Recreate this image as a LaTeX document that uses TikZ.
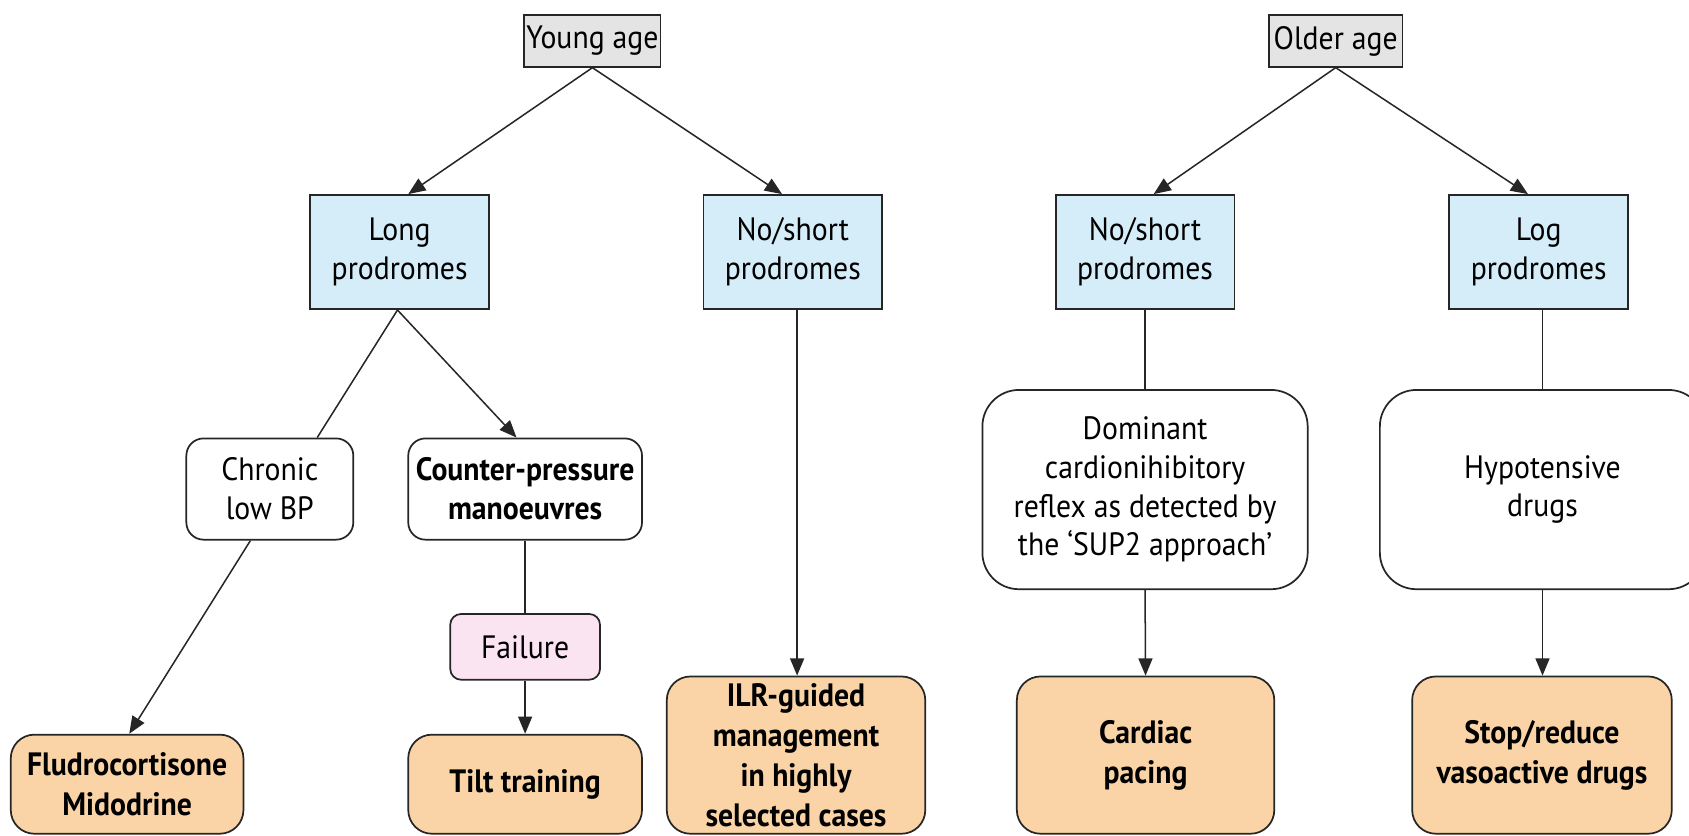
\documentclass[tikz,border=0pt]{standalone}
\usepackage{fontspec}
\setmainfont{PT Sans}[FakeStretch=0.92]
\usetikzlibrary{arrows.meta}
\definecolor{bordc}{HTML}{262626}
\definecolor{grayc}{HTML}{E4E4E4}
\definecolor{bluec}{HTML}{D5ECF9}
\definecolor{pinkc}{HTML}{FBE4F1}
\definecolor{orangec}{HTML}{FAD4A6}
\begin{document}
\begin{tikzpicture}[x=0.5pt,y=-0.5pt,
  base/.style={draw=bordc, line width=0.8pt, align=center, inner sep=1pt, font=\fontsize{15}{18}\selectfont},
  agebox/.style={base, fill=grayc, minimum width=62pt, minimum height=24pt},
  probox/.style={base, fill=bluec, minimum width=83pt, minimum height=53pt},
  condbox/.style={base, fill=white, rounded corners=8pt},
  failbox/.style={base, fill=pinkc, rounded corners=5pt},
  resbox/.style={base, fill=orangec, rounded corners=11pt, font=\fontsize{15}{18.5}\selectfont\bfseries},
  arr/.style={-{Triangle[length=8pt,width=6.5pt]}, line width=0.7pt, draw=bordc},
  ln/.style={line width=0.7pt, draw=bordc}]
\clip (0,0) rectangle (1568,776);
\fill[white] (0,0) rectangle (1568,776);
% top
\node[agebox] (ya) at (550,38) {Young age};
\node[agebox] (oa) at (1240,38) {Older age};
% prodromes
\node[probox] (lp) at (371,234) {Long\\prodromes};
\node[probox] (ns1) at (736,234) {No/short\\prodromes};
\node[probox] (ns2) at (1063,234) {No/short\\prodromes};
\node[probox] (lgp) at (1428.5,234) {Log\\prodromes};
% conditions
\node[condbox, minimum width=77.5pt, minimum height=47pt] (cl) at (250.5,454) {Chronic\\low BP};
\node[condbox, minimum width=108.5pt, minimum height=47pt, font=\fontsize{15}{18}\selectfont\bfseries] (cp) at (487.5,454) {Counter-pressure\\manoeuvres};
\node[failbox, minimum width=69.5pt, minimum height=30.5pt] (fa) at (487.5,600.5) {Failure};
\node[condbox, rounded corners=17pt, minimum width=151pt, minimum height=92.5pt] (dom) at (1063,454.5) {Dominant\\cardionihibitory\\reflex as detected by\\the `SUP2 approach'};
\node[condbox, rounded corners=17pt, minimum width=151pt, minimum height=92.5pt] (hyp) at (1432,454.5) {Hypotensive\\drugs};
% results
\node[resbox, minimum width=108pt, minimum height=46pt] (fl) at (118,728) {Fludrocortisone\\Midodrine};
\node[resbox, minimum width=108.5pt, minimum height=46pt] (tt) at (487.5,728) {Tilt training};
\node[resbox, minimum width=120pt, minimum height=73pt] (ilr) at (739,701) {ILR-guided\\management\\in highly\\selected cases};
\node[resbox, minimum width=119.5pt, minimum height=73pt] (cpc) at (1063.5,701) {Cardiac\\pacing};
\node[resbox, minimum width=120.5pt, minimum height=73pt] (sr) at (1431.5,701) {Stop/reduce\\vasoactive drugs};
% connectors
\draw[arr] (ya.south) -- ([xshift=4pt]lp.north);
\draw[arr] (ya.south) -- ([xshift=-5pt]ns1.north);
\draw[arr] (oa.south) -- ([xshift=4pt]ns2.north);
\draw[arr] (oa.south) -- ([xshift=-5pt]lgp.north);
\draw[ln] ([xshift=-1pt]lp.south) -- ([xshift=22pt]cl.north);
\draw[arr] ([xshift=-1pt]lp.south) -- ([xshift=-4pt]cp.north);
\draw[arr] ([xshift=-9pt]cl.south) -- ([xshift=1pt]fl.north);
\draw[ln] (cp.south) -- (fa.north);
\draw[arr] (fa.south) -- (tt.north);
\draw[arr] ([xshift=2pt]ns1.south) -- ([xshift=2pt]ns1.south |- ilr.north);
\draw[ln] (ns2.south) -- (dom.north);
\draw[arr] (dom.south) -- (cpc.north);
\draw[ln] (hyp.north |- lgp.south) -- (hyp.north);
\draw[arr] (hyp.south) -- (hyp.south |- sr.north);
\end{tikzpicture}
\end{document}
